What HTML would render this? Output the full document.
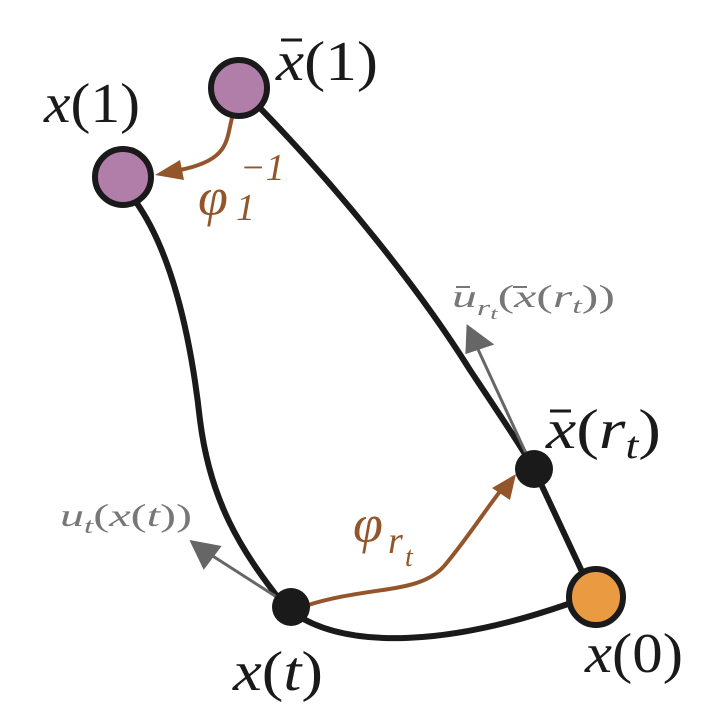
<!DOCTYPE html>
<html><head><meta charset="utf-8"><style>
html,body{margin:0;padding:0;background:#fff;}
svg{display:block;}
text{font-family:"Liberation Serif",serif;font-style:italic;}
</style></head><body>
<svg width="718" height="718" viewBox="0 0 718 718" xmlns="http://www.w3.org/2000/svg">
<g fill="none" stroke="#1a1a1a" stroke-width="6" stroke-linecap="round">
<path d="M136,202 C170,250 190,330 200,420 C210,500 240,550 284,605"/>
<path d="M260,108 C340,190 420,290 470,370 C500,415 520,445 534,469"/>
<path d="M534,469 L585,578"/>
<path d="M295,614 C350,650 450,645 568,604"/>
</g>
<g stroke="#666" stroke-width="3" fill="#666">
<line x1="286" y1="603" x2="208" y2="553"/>
<polygon points="192,542 219,547 204,567"/>
<line x1="530" y1="462" x2="476" y2="345"/>
<polygon points="468,327 491,344 467,352"/>
</g>
<g stroke="#93562b" stroke-width="4" fill="none" stroke-linecap="round">
<path d="M232,118 C226,140 230,160 180,170"/>
<path d="M305,606 C370,585 420,595 445,565 C470,535 485,510 505,485"/>
</g>
<g fill="#93562b">
<polygon points="155,175 180,160 184,180"/>
<polygon points="516,474 510,500 492,488"/>
</g>
<circle cx="239" cy="88" r="28" fill="#b07ea9" stroke="#1a1a1a" stroke-width="6"/>
<circle cx="123" cy="177" r="28" fill="#b07ea9" stroke="#1a1a1a" stroke-width="6"/>
<ellipse cx="596" cy="597" rx="27" ry="28" fill="#ea9a40" stroke="#1a1a1a" stroke-width="6"/>
<circle cx="291" cy="607" r="19" fill="#1a1a1a"/>
<circle cx="534" cy="469" r="19" fill="#1a1a1a"/>
<g fill="#1a1a1a" font-size="56">
<text x="44" y="122" textLength="96" lengthAdjust="spacingAndGlyphs">x<tspan font-style="normal">(1)</tspan></text>
<text x="276" y="80" textLength="102" lengthAdjust="spacingAndGlyphs">x<tspan font-style="normal">(1)</tspan></text>
<text x="546" y="448" textLength="115" lengthAdjust="spacingAndGlyphs">x<tspan font-style="normal">(</tspan>r<tspan font-size="38" dy="10">t</tspan><tspan font-style="normal" dy="-10">)</tspan></text>
<text x="233" y="690" textLength="90" lengthAdjust="spacingAndGlyphs">x<tspan font-style="normal">(</tspan>t<tspan font-style="normal">)</tspan></text>
<text x="585" y="672" textLength="98" lengthAdjust="spacingAndGlyphs">x<tspan font-style="normal">(0)</tspan></text>
</g>
<line x1="281" y1="40" x2="302" y2="40" stroke="#1a1a1a" stroke-width="3"/>
<line x1="550" y1="411" x2="571" y2="411" stroke="#1a1a1a" stroke-width="3"/>
<g fill="#93562b">
<text x="198" y="215" font-size="54">φ</text>
<text x="236" y="220" font-size="38" font-style="normal">1</text>
<text x="240" y="180" font-size="38" font-style="normal">−1</text>
<text x="353" y="542" font-size="54">φ</text>
<text x="388" y="553" font-size="38">r</text>
<text x="405" y="566" font-size="28">t</text>
</g>
<g fill="#777" font-size="32">
<text x="452" y="307" textLength="163" lengthAdjust="spacingAndGlyphs">u<tspan font-size="22" dy="8">r</tspan><tspan font-size="17" dy="4">t</tspan><tspan dy="-12" font-style="normal">(</tspan>x<tspan font-style="normal">(</tspan>r<tspan font-size="22" dy="6">t</tspan><tspan dy="-6" font-style="normal">))</tspan></text>
<text x="60" y="526" textLength="132" lengthAdjust="spacingAndGlyphs">u<tspan font-size="22" dy="7">t</tspan><tspan dy="-7" font-style="normal">(</tspan>x<tspan font-style="normal">(</tspan>t<tspan font-style="normal">))</tspan></text>
</g>
<line x1="456" y1="287" x2="470" y2="287" stroke="#777" stroke-width="2"/>
<line x1="513" y1="287" x2="527" y2="287" stroke="#777" stroke-width="2"/>
</svg>
</body></html>
